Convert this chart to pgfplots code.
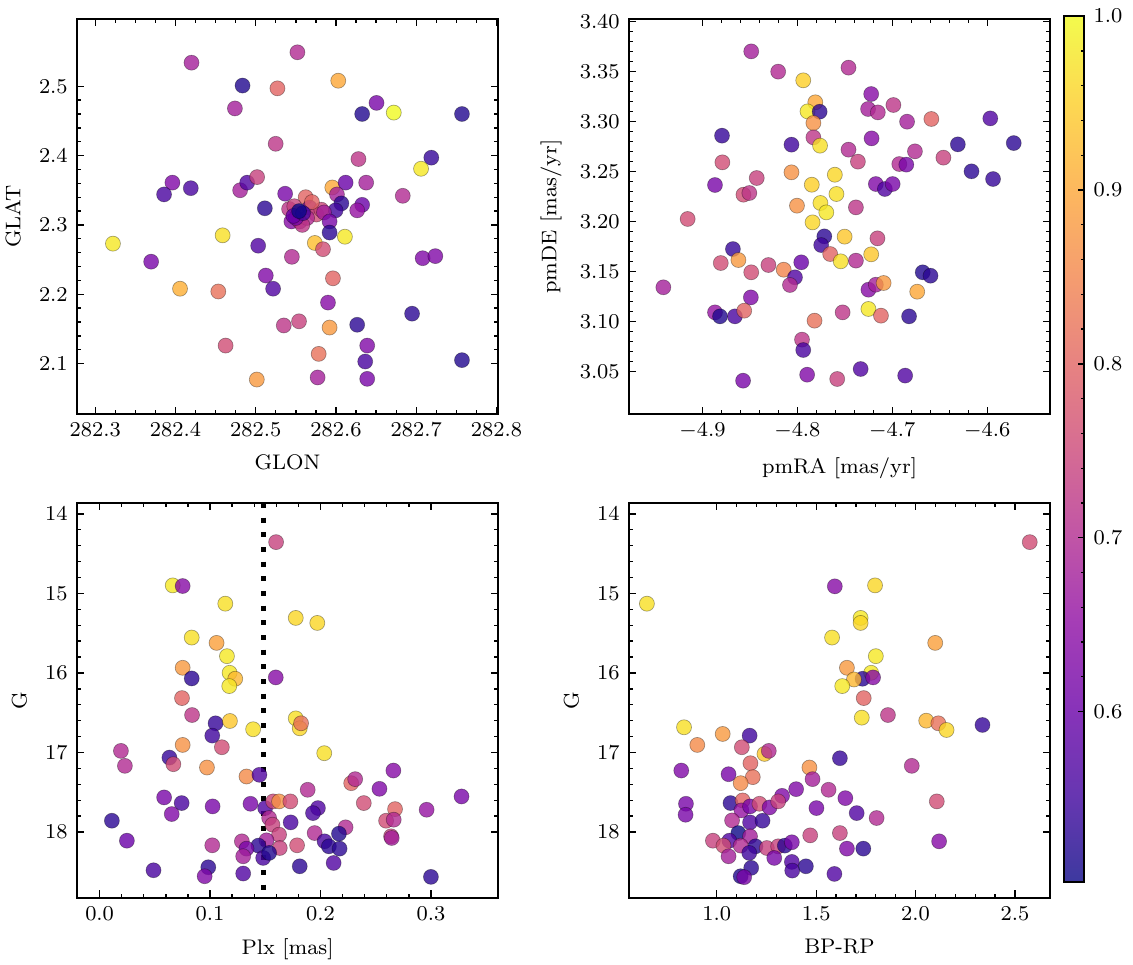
\documentclass[border=0pt]{standalone}
\usepackage{pgfplots}
\usepackage{pgfplotstable}
\pgfplotsset{compat=1.18}
\pgfplotsset{
  colormap={plasma}{rgb255=(13,8,135) rgb255=(65,4,157) rgb255=(106,0,168) rgb255=(143,13,164) rgb255=(177,42,144) rgb255=(204,71,120) rgb255=(225,100,98) rgb255=(242,132,75) rgb255=(252,166,54) rgb255=(252,206,37) rgb255=(240,249,33)},
  colormap={plasmaw}{rgb255=(61,57,159) rgb255=(103,54,177) rgb255=(136,51,185) rgb255=(165,61,182) rgb255=(193,85,166) rgb255=(214,108,147) rgb255=(231,131,129) rgb255=(245,157,111) rgb255=(253,184,94) rgb255=(253,216,81) rgb255=(243,250,77)},
  panel/.style={scale only axis, width=159.5pt, height=149.6pt, anchor=north west,
    tick align=inside, xtick pos=both, ytick pos=both,
    major tick length=2.8pt, minor tick length=1.4pt,
    axis line style={line width=0.7pt},
    every tick/.style={black, line width=0.5pt},
    tick label style={font=\footnotesize},
    label style={font=\footnotesize},
    scaled ticks=false,
    colormap name=plasma, point meta min=0.502, point meta max=1.0},
  sc/.style={scatter, only marks, mark=*, mark size=2.85pt, point meta=explicit,
    scatter/use mapped color={draw=black, fill=mapped color, fill opacity=0.8, draw opacity=0.35, line width=0.25pt}},
  fx1/.style={/pgf/number format/.cd, fixed, fixed zerofill, precision=1, 1000 sep={}},
  fx2/.style={/pgf/number format/.cd, fixed, fixed zerofill, precision=2, 1000 sep={}},
}

\pgfplotstableread{
x y c
282.4199 2.534 0.68
282.5519 2.549 0.70
282.4835 2.501 0.52
282.5270 2.497 0.80
282.6028 2.508 0.90
282.4740 2.468 0.68
282.6326 2.460 0.52
282.6505 2.476 0.62
282.6720 2.462 1.00
282.7570 2.460 0.52
282.5248 2.417 0.72
282.6280 2.395 0.72
282.7188 2.397 0.54
282.7060 2.381 0.98
282.3961 2.361 0.63
282.3857 2.344 0.56
282.4190 2.353 0.56
282.4805 2.350 0.68
282.4893 2.361 0.57
282.5017 2.369 0.74
282.5366 2.345 0.62
282.5113 2.324 0.53
282.5954 2.354 0.90
282.6120 2.361 0.60
282.6376 2.361 0.68
282.6832 2.342 0.70
282.6012 2.344 0.68
282.6067 2.331 0.53
282.5995 2.321 0.55
282.6326 2.329 0.60
282.6264 2.321 0.66
282.5622 2.340 0.80
282.5415 2.323 0.72
282.5527 2.317 0.68
282.5444 2.305 0.64
282.5548 2.305 0.70
282.5672 2.325 0.62
282.5755 2.315 0.76
282.5817 2.322 0.75
282.5480 2.327 0.74
282.5700 2.333 0.80
282.5640 2.310 0.70
282.5580 2.300 0.72
282.5850 2.318 0.68
282.5500 2.310 0.62
282.5470 2.313 0.60
282.5589 2.317 0.56
282.5920 2.305 0.62
282.5540 2.320 0.50
282.5920 2.289 0.53
282.4587 2.285 0.97
282.3220 2.273 0.98
282.5736 2.274 0.93
282.6111 2.283 0.98
282.5838 2.265 0.76
282.5030 2.270 0.57
282.5450 2.254 0.70
282.3696 2.247 0.62
282.7080 2.252 0.63
282.7238 2.255 0.63
282.5125 2.227 0.63
282.5962 2.223 0.80
282.4056 2.208 0.91
282.4533 2.204 0.82
282.5216 2.208 0.57
282.5900 2.188 0.64
282.6948 2.172 0.53
282.5349 2.155 0.72
282.5539 2.161 0.74
282.5920 2.152 0.88
282.6264 2.156 0.53
282.4624 2.126 0.76
282.6389 2.126 0.63
282.5784 2.114 0.82
282.6364 2.103 0.56
282.7570 2.105 0.52
282.5013 2.077 0.88
282.5771 2.080 0.68
282.6389 2.078 0.62
}\tabA

\pgfplotstableread{
x y c
-4.8486 3.3703 0.68
-4.8202 3.3500 0.70
-4.7461 3.3540 0.70
-4.7938 3.3413 0.95
-4.7222 3.3276 0.64
-4.7811 3.3193 0.90
-4.7893 3.3102 0.98
-4.7765 3.3099 0.53
-4.7255 3.3126 0.68
-4.7152 3.3092 0.70
-4.6988 3.3166 0.72
-4.7831 3.2986 0.87
-4.6844 3.2999 0.68
-4.6588 3.3026 0.80
-4.5967 3.3032 0.57
-4.8794 3.2859 0.54
-4.8062 3.2769 0.55
-4.7831 3.2842 0.72
-4.7761 3.2759 0.97
-4.7218 3.2832 0.64
-4.6309 3.2772 0.53
-4.5720 3.2785 0.53
-4.8790 3.2592 0.76
-4.7461 3.2719 0.70
-4.7362 3.2599 0.74
-4.6761 3.2702 0.70
-4.6461 3.2639 0.74
-4.6926 3.2575 0.70
-4.6852 3.2569 0.62
-4.8868 3.2365 0.62
-4.8428 3.2435 0.74
-4.8568 3.2268 0.76
-4.8506 3.2285 0.72
-4.8062 3.2492 0.87
-4.7848 3.2368 0.95
-4.7605 3.2468 0.96
-4.7173 3.2375 0.63
-4.7078 3.2325 0.57
-4.6996 3.2375 0.62
-4.6165 3.2502 0.53
-4.5938 3.2425 0.54
-4.9156 3.2025 0.76
-4.8004 3.2158 0.87
-4.7757 3.2185 0.97
-4.7588 3.2275 0.97
-4.7695 3.2091 0.98
-4.7840 3.1991 0.96
-4.7383 3.2141 0.72
-4.7716 3.1851 0.53
-4.7749 3.1764 0.55
-4.7502 3.1848 0.94
-4.7156 3.1831 0.74
-4.8679 3.1724 0.54
-4.7654 3.1674 0.80
-4.7222 3.1671 0.94
-4.8621 3.1614 0.88
-4.8807 3.1584 0.76
-4.7543 3.1601 0.97
-4.7383 3.1608 0.70
-4.8305 3.1564 0.74
-4.8144 3.1517 0.85
-4.7959 3.1591 0.60
-4.8486 3.1491 0.76
-4.8025 3.1441 0.57
-4.8078 3.1364 0.70
-4.6679 3.1491 0.52
-4.6597 3.1457 0.53
-4.9412 3.1341 0.68
-4.7251 3.1317 0.64
-4.7173 3.1367 0.68
-4.7091 3.1384 0.88
-4.6737 3.1297 0.90
-4.8490 3.1240 0.63
-4.8868 3.1090 0.66
-4.8815 3.1050 0.52
-4.8658 3.1050 0.56
-4.8560 3.1107 0.80
-4.7819 3.1007 0.82
-4.7523 3.1090 0.72
-4.7251 3.1124 0.98
-4.7119 3.1057 0.80
-4.6823 3.1050 0.53
-4.7951 3.0817 0.72
-4.7938 3.0713 0.56
-4.8572 3.0406 0.62
-4.7897 3.0466 0.63
-4.7580 3.0423 0.74
-4.7333 3.0523 0.57
-4.6864 3.0457 0.57
}\tabB

\pgfplotstableread{
x y c
0.1598 14.355 0.74
0.0662 14.899 0.98
0.0752 14.907 0.64
0.1138 15.129 0.97
0.1776 15.308 0.96
0.1971 15.371 0.96
0.0834 15.555 0.97
0.1059 15.622 0.89
0.1153 15.789 0.98
0.0752 15.935 0.88
0.1177 15.998 0.98
0.0834 16.069 0.53
0.1228 16.073 0.92
0.1174 16.165 0.98
0.1595 16.056 0.64
0.0746 16.316 0.80
0.0837 16.529 0.72
0.1050 16.633 0.54
0.1020 16.788 0.55
0.1180 16.604 0.94
0.1390 16.708 0.97
0.1776 16.571 0.97
0.1812 16.696 0.96
0.1824 16.633 0.82
0.0752 16.905 0.87
0.1107 16.934 0.76
0.0193 16.980 0.70
0.2034 17.009 0.97
0.0229 17.168 0.70
0.0632 17.064 0.54
0.0668 17.147 0.76
0.0972 17.189 0.87
0.1330 17.302 0.86
0.1447 17.281 0.57
0.2660 17.227 0.64
0.2278 17.386 0.80
0.2314 17.335 0.70
0.1884 17.469 0.70
0.2534 17.457 0.63
0.3277 17.553 0.62
0.0584 17.565 0.62
0.0743 17.636 0.56
0.1023 17.678 0.62
0.1366 17.645 0.62
0.1499 17.699 0.57
0.1571 17.615 0.75
0.1625 17.615 0.87
0.1727 17.615 0.76
0.1977 17.699 0.57
0.1932 17.762 0.56
0.2392 17.636 0.76
0.2675 17.712 0.80
0.2961 17.720 0.66
0.0111 17.858 0.53
0.0653 17.774 0.63
0.1535 17.824 0.70
0.1565 17.908 0.74
0.1730 17.879 0.56
0.2594 17.858 0.76
0.2663 17.845 0.70
0.2227 17.941 0.70
0.1947 18.013 0.70
0.1625 18.033 0.74
0.2167 18.021 0.52
0.0247 18.109 0.60
0.1020 18.167 0.70
0.1288 18.117 0.70
0.1511 18.104 0.68
0.1438 18.171 0.53
0.1330 18.209 0.62
0.1631 18.201 0.74
0.1788 18.167 0.76
0.2037 18.117 0.56
0.2076 18.180 0.53
0.2173 18.209 0.53
0.2639 18.054 0.74
0.2645 18.075 0.68
0.1300 18.305 0.68
0.1481 18.326 0.56
0.1535 18.263 0.52
0.0488 18.481 0.56
0.0984 18.443 0.53
0.0951 18.556 0.63
0.1300 18.522 0.57
0.1812 18.431 0.53
0.2119 18.389 0.57
0.3000 18.564 0.53
}\tabC

\pgfplotstableread{
x y c
2.5747 14.355 0.76
0.6481 15.129 0.97
1.5937 14.911 0.64
1.7962 14.899 0.96
1.7235 15.308 0.98
1.7235 15.371 0.96
1.5799 15.555 0.97
2.0990 15.622 0.89
1.8001 15.789 0.98
1.6547 15.935 0.88
1.7765 15.998 0.98
1.7333 16.073 0.53
1.6900 16.082 0.92
1.6311 16.165 0.98
1.7864 16.056 0.64
1.7392 16.316 0.80
1.8611 16.529 0.72
2.3368 16.654 0.54
1.7294 16.562 0.97
2.0537 16.600 0.92
2.1147 16.633 0.82
2.1560 16.717 0.96
0.8349 16.683 0.97
1.0295 16.767 0.88
1.1651 16.788 0.55
0.9017 16.905 0.86
1.1258 16.934 0.76
1.2398 17.018 0.94
1.2615 16.980 0.70
1.6193 17.072 0.54
0.8211 17.227 0.63
1.1691 17.135 0.80
1.4659 17.189 0.87
1.9810 17.168 0.70
1.0590 17.273 0.62
1.1809 17.310 0.82
1.1199 17.386 0.86
1.4816 17.335 0.68
1.3991 17.461 0.63
1.5623 17.469 0.70
1.3283 17.545 0.63
1.6468 17.574 0.63
2.1069 17.615 0.76
0.8447 17.645 0.62
0.8427 17.783 0.62
1.0688 17.636 0.53
1.1298 17.603 0.80
1.1239 17.728 0.66
1.1671 17.678 0.62
1.2143 17.645 0.76
1.2654 17.691 0.63
1.3086 17.615 0.74
1.5013 17.699 0.62
1.7038 17.762 0.57
1.8041 17.824 0.70
1.0767 17.854 0.70
1.1671 17.879 0.57
1.2300 17.858 0.54
1.1081 18.013 0.50
0.9803 18.109 0.74
1.0629 18.109 0.57
1.1671 18.054 0.68
1.0334 18.171 0.76
1.1199 18.171 0.70
1.1946 18.180 0.53
1.1632 18.263 0.55
1.2516 18.201 0.74
1.3086 18.180 0.74
1.3421 18.171 0.53
1.3775 18.129 0.62
1.4699 18.042 0.74
1.6193 18.013 0.74
1.6547 18.209 0.63
1.7372 18.209 0.53
2.1186 18.117 0.64
1.0590 18.305 0.68
1.2890 18.326 0.62
1.3775 18.376 0.57
1.3794 18.485 0.56
1.4482 18.431 0.53
1.1730 18.451 0.53
1.5917 18.527 0.57
1.1199 18.556 0.52
1.1376 18.568 0.62
}\tabD

\begin{document}
\begin{tikzpicture}
\path[use as bounding box] (0pt,0pt) rectangle (429.17pt,-365.53pt);

% Top-left
\begin{axis}[panel, at={(29.17pt,-7.2pt)},
  xmin=282.2772, xmax=282.802, ymin=2.0274, ymax=2.597,
  xtick={282.3,282.4,282.5,282.6,282.7,282.8},
  ytick={2.1,2.2,2.3,2.4,2.5},
  minor x tick num=3, minor y tick num=4,
  xticklabel style={fx1}, yticklabel style={fx1},
  xlabel={GLON}, ylabel={GLAT}]
\addplot[sc] table[meta=c] {\tabA};
\end{axis}

% Top-right
\begin{axis}[panel, at={(238.26pt,-7.2pt)},
  xmin=-4.9774, xmax=-4.5337, ymin=3.0073, ymax=3.4027,
  xtick={-4.9,-4.8,-4.7,-4.6},
  ytick={3.05,3.10,3.15,3.20,3.25,3.30,3.35,3.40},
  minor x tick num=4, minor y tick num=4,
  xticklabel style={fx1}, yticklabel style={fx2},
  xlabel={pmRA [mas/yr]}, ylabel={pmDE [mas/yr]},
  colorbar,
  colorbar style={
    at={(parent axis.north east)}, anchor=north west, xshift=-3.2pt, yshift=1.1pt,
    scale only axis, width=7.6pt, height=328pt,
    colormap name=plasmaw,
    axis line style={line width=0.7pt},
    ytick={0.6,0.7,0.8,0.9,1.0}, minor y tick num=4,
    tick align=inside, ytick pos=right, yticklabel pos=right,
    major tick length=2.2pt, minor tick length=1.2pt,
    every tick/.style={black, line width=0.5pt},
    yticklabel style={font=\footnotesize, fx1},
  }]
\addplot[sc] table[meta=c] {\tabB};
\end{axis}

% Bottom-left
\begin{axis}[panel, at={(29.17pt,-190.5pt)},
  xmin=-0.02047, xmax=0.3608, ymin=13.862, ymax=18.828, y dir=reverse,
  xtick={0,0.1,0.2,0.3},
  ytick={14,15,16,17,18},
  minor x tick num=4, minor y tick num=4,
  xticklabel style={fx1},
  xlabel={Plx [mas]}, ylabel={G}]
\addplot[sc] table[meta=c] {\tabC};
\addplot[black, line width=1.9pt, dash pattern=on 1.9pt off 3.66pt] coordinates {(0.1486,13.862) (0.1486,18.828)};
\end{axis}

% Bottom-right
\begin{axis}[panel, at={(238.26pt,-190.5pt)},
  xmin=0.558, xmax=2.677, ymin=13.862, ymax=18.828, y dir=reverse,
  xtick={1.0,1.5,2.0,2.5},
  ytick={14,15,16,17,18},
  minor x tick num=4, minor y tick num=4,
  xticklabel style={fx1},
  xlabel={BP-RP}, ylabel={G}]
\addplot[sc] table[meta=c] {\tabD};
\end{axis}
\end{tikzpicture}
\end{document}
